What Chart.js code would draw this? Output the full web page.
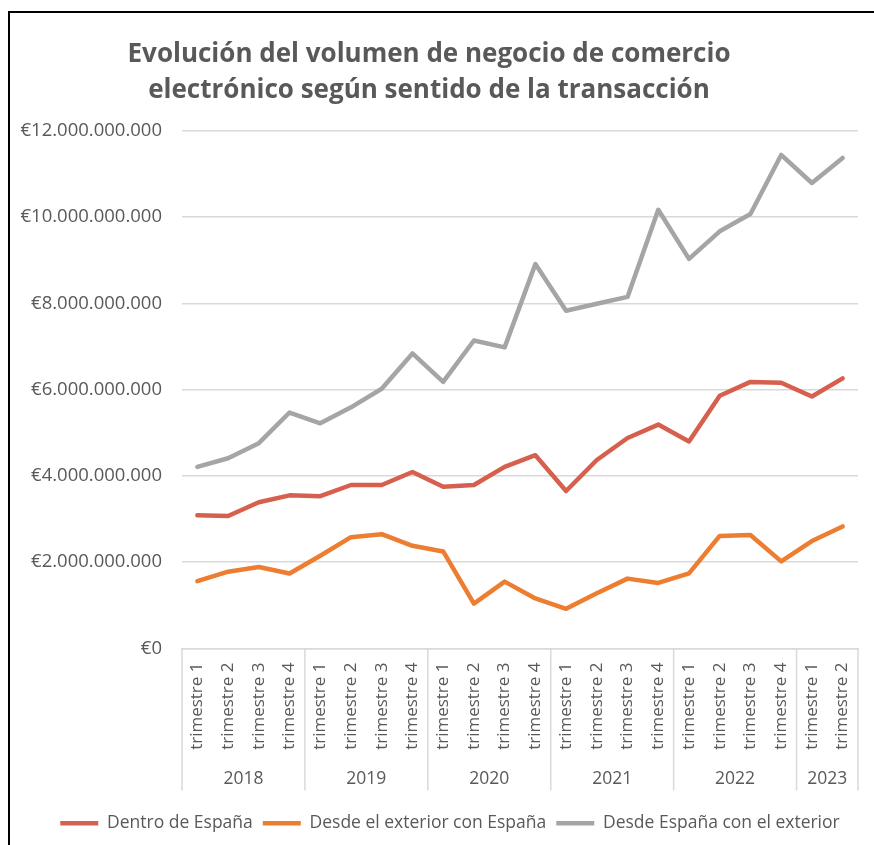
<!DOCTYPE html>
<html lang="es">
<head>
  <meta charset="UTF-8">
  <title>Comercio electrónico por sentido de la transacción</title>
  <script src="https://cdn.jsdelivr.net/npm/chart.js"></script>
  <style>
    html, body { margin: 0; padding: 0; background: #fff; overflow: hidden; }
    #wrap { position: absolute; left: 0; top: 0; width: 874px; height: 845px; }
    #marco { position: absolute; left: 8px; top: 11px; width: 1000px; height: 1000px;
             border-left: 2px solid #000; border-top: 2px solid #000; pointer-events: none; }
  </style>
</head>
<body>
  <div id="wrap"><canvas id="grafico" width="874" height="845"></canvas></div>
  <div id="marco"></div>

  <script>
    // Datos (euros), 2018 T1 - 2023 T2
    const trimestres = [
      'trimestre 1', 'trimestre 2', 'trimestre 3', 'trimestre 4',
      'trimestre 1', 'trimestre 2', 'trimestre 3', 'trimestre 4',
      'trimestre 1', 'trimestre 2', 'trimestre 3', 'trimestre 4',
      'trimestre 1', 'trimestre 2', 'trimestre 3', 'trimestre 4',
      'trimestre 1', 'trimestre 2', 'trimestre 3', 'trimestre 4',
      'trimestre 1', 'trimestre 2'
    ];
    const anios = ['2018', '2019', '2020', '2021', '2022', '2023'];
    const trimestresPorAnio = [4, 4, 4, 4, 4, 2];

    const dentroEspana = [
      3.09e9, 3.07e9, 3.39e9, 3.55e9, 3.53e9, 3.79e9, 3.79e9, 4.09e9, 3.75e9, 3.79e9, 4.21e9,
      4.48e9, 3.65e9, 4.37e9, 4.88e9, 5.19e9, 4.80e9, 5.86e9, 6.18e9, 6.16e9, 5.84e9, 6.26e9
    ];
    const exteriorConEspana = [
      1.56e9, 1.78e9, 1.89e9, 1.74e9, 2.15e9, 2.58e9, 2.65e9, 2.38e9, 2.25e9, 1.04e9, 1.55e9,
      1.16e9, 0.92e9, 1.28e9, 1.62e9, 1.52e9, 1.74e9, 2.61e9, 2.63e9, 2.02e9, 2.49e9, 2.83e9
    ];
    const espanaConExterior = [
      4.21e9, 4.41e9, 4.76e9, 5.47e9, 5.22e9, 5.59e9, 6.02e9, 6.84e9, 6.18e9, 7.14e9, 6.98e9,
      8.91e9, 7.83e9, 7.99e9, 8.15e9, 10.17e9, 9.03e9, 9.67e9, 10.07e9, 11.44e9, 10.79e9, 11.37e9
    ];

    const GRIS_TEXTO = '#595959';
    const GRIS_LINEA = '#d9d9d9';
    const FUENTE = 'Open Sans';

    function euros(v) {
      return '€' + String(Math.round(v)).replace(/\B(?=(\d{3})+(?!\d))/g, '.');
    }

    // Etiquetas de año y separadores bajo el eje X
    const aniosPlugin = {
      id: 'anios',
      afterLayout(chart) {
        // la leyenda va algo desplazada a la derecha en el original
        chart.legend.left += 21;
        chart.legend.right += 21;
      },
      afterDraw(chart) {
        const ctx = chart.ctx;
        const x = chart.scales.x;
        const base = chart.chartArea.bottom;
        const paso = x.getPixelForValue(1) - x.getPixelForValue(0);
        ctx.save();
        ctx.strokeStyle = GRIS_LINEA;
        ctx.lineWidth = 1.5;
        ctx.fillStyle = GRIS_TEXTO;
        ctx.font = '17.5px "' + FUENTE + '"';
        ctx.textAlign = 'center';
        ctx.textBaseline = 'middle';
        let idx = 0;
        anios.forEach((anio, i) => {
          const ini = x.getPixelForValue(idx) - paso / 2;
          const fin = x.getPixelForValue(idx + trimestresPorAnio[i] - 1) + paso / 2;
          ctx.beginPath();
          ctx.moveTo(ini, base);
          ctx.lineTo(ini, base + 142);
          if (i === anios.length - 1) {
            ctx.moveTo(fin, base);
            ctx.lineTo(fin, base + 142);
          }
          ctx.stroke();
          ctx.fillText(anio, (ini + fin) / 2, base + 131);
          idx += trimestresPorAnio[i];
        });
        ctx.restore();
      }
    };

    const serie = (label, data, color) => ({
      label: label,
      data: data,
      borderColor: color,
      backgroundColor: color,
      borderWidth: 4.5,
      borderCapStyle: 'round',
      borderJoinStyle: 'round',
      pointRadius: 0,
      tension: 0
    });

    new Chart(document.getElementById('grafico').getContext('2d'), {
      type: 'line',
      data: {
        labels: trimestres,
        datasets: [
          serie('Dentro de España', dentroEspana, '#d6604d'),
          serie('Desde el exterior con España', exteriorConEspana, '#ed7d31'),
          serie('Desde España con el exterior', espanaConExterior, '#a5a5a5')
        ]
      },
      plugins: [aniosPlugin],
      options: {
        responsive: false,
        animation: false,
        layout: { padding: { top: 36, right: 16, bottom: 3, left: 0 } },
        plugins: {
          title: {
            display: true,
            text: ['Evolución del volumen de negocio de comercio',
                   'electrónico según sentido de la transacción'],
            color: GRIS_TEXTO,
            font: { family: FUENTE, size: 26, weight: 'bold', lineHeight: 1.4 },
            padding: { top: 0, bottom: 22 }
          },
          legend: {
            position: 'bottom',
            labels: {
              usePointStyle: true,
              pointStyle: 'line',
              pointStyleWidth: 38,
              padding: 10,
              color: GRIS_TEXTO,
              font: { family: FUENTE, size: 17.5 }
            }
          },
          tooltip: { enabled: false }
        },
        scales: {
          x: {
            offset: true,
            grid: { display: false },
            border: { display: true, color: GRIS_LINEA, width: 1.5 },
            ticks: {
              autoSkip: false,
              minRotation: 90,
              maxRotation: 90,
              padding: 6,
              color: GRIS_TEXTO,
              font: { family: FUENTE, size: 17 }
            },
            afterFit: s => { s.height = 156; }
          },
          y: {
            min: 0,
            max: 12e9,
            border: { display: false },
            grid: { color: GRIS_LINEA, lineWidth: 1.5, drawTicks: false },
            ticks: {
              stepSize: 2e9,
              padding: 20,
              color: GRIS_TEXTO,
              font: { family: FUENTE, size: 18.5 },
              callback: v => euros(v)
            },
            afterFit: s => { s.width = 182; }
          }
        }
      }
    });
  </script>
</body>
</html>
